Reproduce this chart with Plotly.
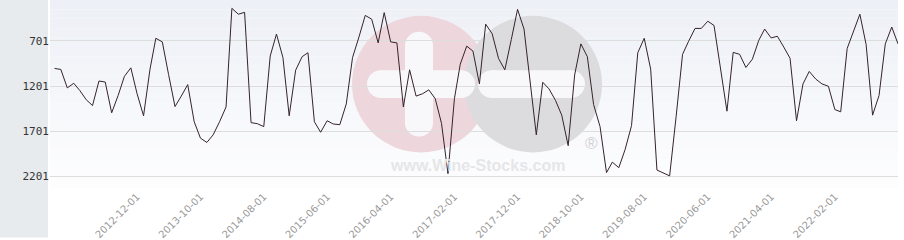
import plotly.graph_objects as go
import pandas as pd

# ---- data ----
start_month = "2011-11-01"
values = [
    1006, 1017, 1221, 1170, 1250, 1352, 1417, 1145, 1156, 1497,
    1305, 1094, 999, 1286, 1530, 1014, 672, 712, 1072, 1428,
    1312, 1185, 1595, 1777, 1825, 1741, 1595, 1432, 341, 406,
    385, 1606, 1617, 1650, 868, 625, 886, 1530, 1025, 876,
    832, 1596, 1712, 1585, 1621, 1628, 1399, 886, 657, 419,
    461, 723, 388, 712, 723, 1432, 1021, 1312, 1286, 1243,
    1341, 1614, 2170, 1341, 959, 759, 814, 1177, 516, 621,
    897, 1021, 686, 352, 570, 1159, 1741, 1159, 1232, 1359,
    1523, 1861, 1079, 734, 876, 1406, 1650, 2159, 2043, 2104,
    1905, 1639, 832, 672, 1014, 2130, 2166, 2195, 1541, 850,
    705, 563, 563, 483, 530, 1014, 1479, 828, 850, 995,
    904, 694, 570, 668, 650, 770, 894, 1585, 1177, 1039,
    1123, 1177, 1203, 1461, 1486, 785, 603, 406, 741, 1523,
    1305, 734, 548, 734,
]
dates = pd.date_range(start_month, periods=len(values), freq="MS")

x_ticks = ["2012-12-01", "2013-10-01", "2014-08-01", "2015-06-01", "2016-04-01",
           "2017-02-01", "2017-12-01", "2018-10-01", "2019-08-01", "2020-06-01",
           "2021-04-01", "2022-02-01"]
y_ticks = [701, 1201, 1701, 2201]

# ---- figure ----
W, H = 904, 240
ML, MR, MT, MB = 50, 6, 0, 50
PW, PH = W - ML - MR, H - MT - MB

fig = go.Figure()
fig.add_trace(go.Scatter(
    x=dates, y=values, mode="lines",
    line=dict(color="#35232c", width=1),
    hoverinfo="skip",
))

shapes = []
# left grey panel
shapes.append(dict(type="rect", xref="paper", yref="paper",
                   x0=-ML / PW, x1=-2 / PW, y0=-MB / PH, y1=1 + MT / PH,
                   fillcolor="#e8ebee", line=dict(width=0), layer="below"))
# background gradient bands in the plot area
nb = 20
top = (237, 240, 246)
bot = (253, 253, 254)
for i in range(nb):
    t = i / (nb - 1)
    c = tuple(int(round(top[k] + (bot[k] - top[k]) * t)) for k in range(3))
    shapes.append(dict(type="rect", xref="paper", yref="paper",
                       x0=0, x1=1, y0=1 - (i + 1) / nb, y1=1 - i / nb,
                       fillcolor="rgb(%d,%d,%d)" % c, line=dict(width=0), layer="below"))


def px2paper(px, py):
    return (px - ML) / PW, (H - MB - py) / PH


def circle(cx, cy, r, color):
    x0, y0 = px2paper(cx - r, cy + r)
    x1, y1 = px2paper(cx + r, cy - r)
    return dict(type="circle", xref="paper", yref="paper", x0=x0, x1=x1, y0=y0, y1=y1,
                fillcolor=color, line=dict(width=0), layer="below")


def rect(xa, ya, xb, yb, color):
    x0, y0 = px2paper(xa, yb)
    x1, y1 = px2paper(xb, ya)
    return dict(type="rect", xref="paper", yref="paper", x0=x0, x1=x1, y0=y0, y1=y1,
                fillcolor=color, line=dict(width=0), layer="below")


# watermark logo
pink = "#edd7dd"
grey = "#dcdcde"
white = "#f8f8fa"
cy = 85
bh = 14  # half bar height
shapes.append(circle(421, cy, 69, pink))
shapes.append(circle(533, cy, 69, grey))
# plus sign (white) in pink circle
shapes.append(rect(381, cy - bh, 461, cy + bh, white))
shapes.append(circle(381, cy, bh, white))
shapes.append(circle(461, cy, bh, white))
shapes.append(rect(405, 46, 433, 124, white))
shapes.append(circle(419, 46, bh, white))
shapes.append(circle(419, 124, bh, white))
# minus sign in grey circle
shapes.append(rect(492, cy - bh, 571, cy + bh, white))
shapes.append(circle(492, cy, bh, white))
shapes.append(circle(571, cy, bh, white))

annotations = [
    dict(text="www.Wine-Stocks.com", xref="paper", yref="paper",
         x=px2paper(477, 167)[0], y=px2paper(477, 167)[1], showarrow=False,
         font=dict(family="Liberation Sans, Arial", size=16, color="#e6e6e8", weight="bold"),
         xanchor="center", yanchor="middle"),
    dict(text="®", xref="paper", yref="paper",
         x=px2paper(591, 145)[0], y=px2paper(591, 145)[1], showarrow=False,
         font=dict(family="Liberation Sans, Arial", size=17, color="#d2d2d4"),
         xanchor="center", yanchor="middle"),
]

fig.update_layout(
    width=W, height=H,
    margin=dict(l=ML, r=MR, t=MT, b=MB, pad=0),
    paper_bgcolor="white",
    plot_bgcolor="rgba(0,0,0,0)",
    showlegend=False,
    shapes=shapes,
    annotations=annotations,
    xaxis=dict(
        type="date",
        range=["2011-10-10", "2022-12-01"],
        tickvals=x_ticks, ticktext=x_ticks,
        tickangle=-45,
        tickfont=dict(family="DejaVu Sans", size=10, color="#999999"),
        showgrid=False, zeroline=False, showline=False, ticks="",
    ),
    yaxis=dict(
        range=[2329, 248.5],
        tickvals=y_ticks, ticktext=[str(v) for v in y_ticks],
        tickfont=dict(family="DejaVu Sans Mono", size=11, color="#333333"),
        showgrid=True, gridcolor="#dddddd", gridwidth=1,
        zeroline=False, showline=False, ticks="",
    ),
)

fig.write_html("out.html")
